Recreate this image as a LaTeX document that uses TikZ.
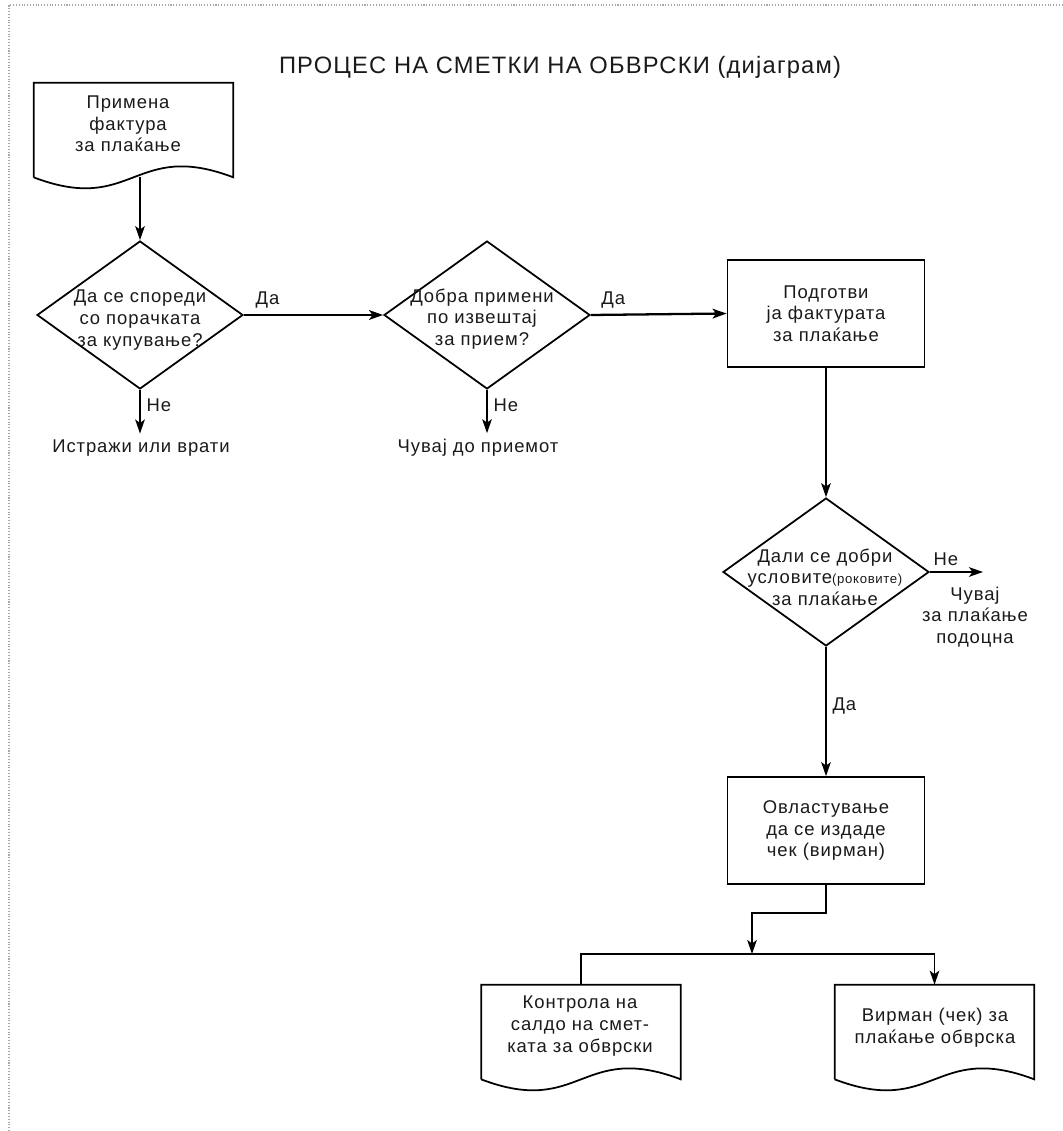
\documentclass[tikz,border=0pt]{standalone}
\usepackage{fontspec}
\setmainfont{Liberation Sans}[LetterSpace=5]
\usetikzlibrary{arrows.meta,positioning,calc,shapes.geometric}
\definecolor{ink}{HTML}{1A1A1A}
\newcommand{\fs}{\fontsize{10.5}{12.3}\selectfont}
\newcommand{\docshape}[1]{\draw[line width=1pt] (#1.south west) -- (#1.north west) -- (#1.north east) -- (#1.south east)
  .. controls ($(#1.south)+(0cm,0.76cm)$) and ($(#1.south)+(0cm,-0.76cm)$) .. (#1.south west);}
\tikzset{
  every node/.style={text=ink, font=\fs},
  txt/.style={align=center},
  procbox/.style={draw, line width=1pt, minimum width=3.94cm, minimum height=2.14cm, align=center},
  docbox/.style={minimum width=3.98cm, minimum height=1.88cm, inner sep=0pt},
  decision/.style={draw, diamond, line width=1pt, minimum width=4.12cm, minimum height=2.96cm, inner sep=0pt},
  flow/.style={line width=0.8pt, -{Stealth[length=8pt,width=5.5pt,inset=2pt]}},
  thickflow/.style={flow, line width=1.3pt},
}

\begin{document}
\begin{tikzpicture}[x=0.02cm,y=-0.02cm]
 \useasboundingbox (0,0) rectangle (1062,1131);
 \draw[densely dotted, gray!70, line width=0.6pt] (9,1131) -- (9,5) -- (1062,5);
 \node[font=\fontsize{13.5}{16}\selectfont] (title) at (560,67) {ПРОЦЕС НА СМЕТКИ НА ОБВРСКИ (дијаграм)};
 % shapes
 \node[docbox] (inv) at (133.5,130) {}; \docshape{inv}
 \node[txt] (invt) at (128,124) {Примена\\фактура\\за плаќање};
 \node[decision] (d1) at (140,315) {};
 \node[txt] (d1t) at (140,320) {Да се спореди\\со порачката\\за купување?};
 \node[decision] (d2) at (487,315) {};
 \node[txt] (d2t) at (482,319) {Добра примени\\по извештај\\за прием?};
 \node[procbox] (prep) at (826,313.5) {Подготви\\ја фактурата\\за плаќање};
 \node[decision] (d3) at (826,572) {};
 \node[txt] (d3t) at (825,577) {Дали се добри\\условите{\fontsize{7.5}{9}\selectfont(роковите)}\\за плаќање};
 \node[procbox] (auth) at (826,830.5) {Овластување\\да се издаде\\чек (вирман)};
 \node[docbox] (ctrl) at (581,1032) {}; \docshape{ctrl}
 \node[txt] (ctrlt) at (580,1026) {Контрола на\\салдо на смет-\\ката за обврски};
 \node[docbox] (pay) at (934.5,1032) {}; \docshape{pay}
 \node[txt] (payt) at (935,1027.5) {Вирман (чек) за\\плаќање обврска};
 % side texts
 \node (inq) at (141,448) {Истражи или врати};
 \node (wait) at (478,448) {Чувај до приемот};
 \node[txt] (later) at (975,617) {Чувај\\за плаќање\\подоцна};
 \coordinate (no3) at (983,572);
 \coordinate (fork) at (752,954);
 % connectors
 \draw[flow] (inv.south -| d1.north) -- (d1.north);
 \draw[thickflow] (d1.east) -- node[above, pos=0.17] {Да} (d2.west);
 \draw[thickflow] (d2.east) -- node[above, pos=0.165] {Да} (prep.west);
 \draw[flow] (d1.south) -- node[right, pos=0.35] {Не} (d1.south |- inq.north);
 \draw[flow] (d2.south) -- node[right, pos=0.35] {Не} (d2.south |- wait.north);
 \draw[flow] (prep.south) -- (d3.north);
 \draw[flow] (d3.east) -- node[above, pos=0.3] {Не} (no3);
 \draw[flow] (d3.south) -- node[right, pos=0.46] {Да} (auth.north);
 \draw[flow] (auth.south) -- ++(0,28) -| (fork);
 \draw[flow] (ctrl.north) |- (fork) -| (pay.north);
\end{tikzpicture}
\end{document}
